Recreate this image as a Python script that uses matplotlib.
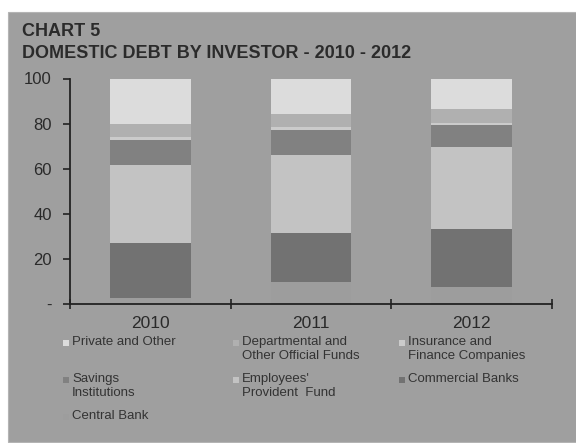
import matplotlib.pyplot as plt
from matplotlib.patches import Rectangle

years = ["2010", "2011", "2012"]

# investor shares (%) stacked from the bottom up
central_bank = [2.5, 9.9, 7.7]
commercial_banks = [24.4, 21.7, 25.4]
provident_fund = [34.7, 34.5, 36.4]
savings_inst = [11.1, 11.1, 9.9]
insurance_fin = [1.5, 1.2, 1.0]
departmental = [5.5, 5.9, 6.1]
private_other = [20.3, 15.7, 13.5]

yticks = [0, 20, 40, 60, 80, 100]
ytick_labels = ["-", "20", "40", "60", "80", "100"]

BG = "#9f9f9f"
series = [
    ("Central Bank", central_bank, "#9d9d9d"),
    ("Commercial Banks", commercial_banks, "#727272"),
    ("Employees'\nProvident  Fund", provident_fund, "#c3c3c3"),
    ("Savings\nInstitutions", savings_inst, "#818181"),
    ("Insurance and\nFinance Companies", insurance_fin, "#cbcbcb"),
    ("Departmental and\nOther Official Funds", departmental, "#b0b0b0"),
    ("Private and Other", private_other, "#dcdcdc"),
]

plt.rcParams["font.family"] = ["Liberation Sans", "DejaVu Sans"]

W, H = 576, 443
fig = plt.figure(figsize=(W / 100, H / 100), dpi=100)
fig.patch.set_facecolor("white")
fig.patches.append(Rectangle((8 / W, 1 / H), 1, (442 - 12) / H, transform=fig.transFigure,
                             facecolor=BG, edgecolor="#b4b4b4", linewidth=0.8, zorder=-10))

fig.text(22 / W, 1 - 32 / H, "CHART 5", fontsize=13, fontweight="bold",
         color="#2b2b2b", va="center", ha="left")
fig.text(22 / W, 1 - 54 / H, "DOMESTIC DEBT BY INVESTOR - 2010 - 2012", fontsize=13,
         fontweight="bold", color="#2b2b2b", va="center", ha="left")

ax = fig.add_axes([70 / W, 1 - 304 / H, (552 - 70) / W, (304 - 78.5) / H])
ax.set_facecolor("none")

x = range(len(years))
bottom = [0.0] * len(years)
for name, vals, col in series:
    ax.bar(x, vals, width=0.5, bottom=bottom, color=col, linewidth=0)
    bottom = [b + v for b, v in zip(bottom, vals)]

ax.set_xlim(-0.5, 2.5)
ax.set_ylim(0, 100)
ax.set_yticks(yticks)
ax.set_yticklabels(ytick_labels)
ax.set_xticks(list(x))
ax.set_xticklabels(years)
ax.set_xticks([-0.5, 0.5, 1.5, 2.5], minor=True)

for s in ["top", "right"]:
    ax.spines[s].set_visible(False)
for s in ["left", "bottom"]:
    ax.spines[s].set_color("#222222")
    ax.spines[s].set_linewidth(1.3)

ax.tick_params(axis="y", direction="out", length=5, width=1.2, color="#222222",
               labelsize=12, labelcolor="#2a2a2a", pad=8)
ax.tick_params(axis="x", which="major", length=0, labelsize=12.5,
               labelcolor="#2a2a2a", pad=9)
ax.tick_params(axis="x", which="minor", direction="inout", length=7, width=1.2,
               color="#222222")

# legend laid out in three columns, newest series first
legend_order = [6, 5, 4, 3, 2, 1, 0]
col_x = [66, 236, 402]
row_y = [343, 380, 417]
for i, idx in enumerate(legend_order):
    name, vals, col = series[idx]
    cx = col_x[i % 3]
    ry = row_y[i // 3]
    fig.patches.append(Rectangle(((cx - 3) / W, 1 - (ry + 3) / H), 6 / W, 6 / H,
                                 transform=fig.transFigure, facecolor=col,
                                 edgecolor="none"))
    fig.text((cx + 6) / W, 1 - (ry - 7) / H, name, fontsize=9.5, color="#333333",
             va="top", ha="left", linespacing=1.25)

fig.savefig("out.png", dpi=100)
